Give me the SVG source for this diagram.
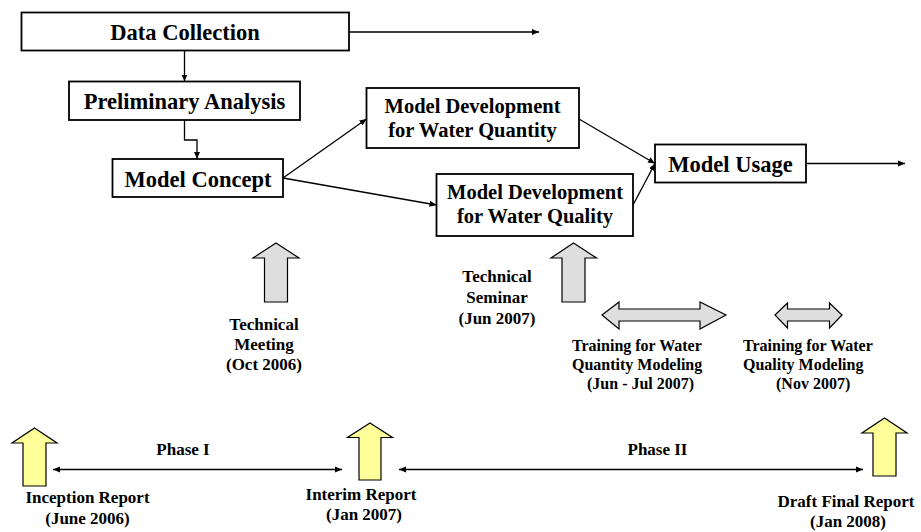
<svg xmlns="http://www.w3.org/2000/svg" width="921" height="532" viewBox="0 0 921 532">
  <style>
    .box { fill: #ffffff; stroke: #000000; stroke-width: 1.8; }
    .t { font-family: "Liberation Serif", "Times New Roman", serif; font-weight: bold; fill: #000000; text-anchor: middle; }
    .big { font-size: 22.5px; }
    .mid { font-size: 20.5px; }
    .sm { font-size: 17px; }
    .tr { font-size: 16px; text-anchor: start; }
    .conn { fill: none; stroke: #000000; stroke-width: 1.3; marker-end: url(#ah); }
    .dbl { fill: none; stroke: #000000; stroke-width: 1.3; marker-start: url(#ah); marker-end: url(#ah); }
    .grey { fill: #dedede; stroke: #000000; stroke-width: 1.2; stroke-linejoin: miter; }
    .yel { fill: #ffff99; stroke: #000000; stroke-width: 1.2; stroke-linejoin: miter; }
  </style>
  <defs>
    <marker id="ah" markerUnits="userSpaceOnUse" markerWidth="8" markerHeight="7" refX="7" refY="3.5" orient="auto-start-reverse">
      <path d="M0,0.5 L7,3.5 L0,6.5 z" fill="#000000"/>
    </marker>
  </defs>

  <g id="connectors">
    <line class="conn" x1="349" y1="32" x2="539" y2="32"/>
    <line class="conn" x1="184.5" y1="51" x2="184.5" y2="81.5"/>
    <polyline class="conn" points="184.5,120 184.5,140 197,140 197,159"/>
    <line class="conn" x1="283" y1="178" x2="366.5" y2="119"/>
    <line class="conn" x1="283" y1="178" x2="436.5" y2="205"/>
    <line class="conn" x1="579" y1="119" x2="655" y2="163.5"/>
    <line class="conn" x1="633" y1="205" x2="655" y2="163.5"/>
    <line class="conn" x1="806" y1="163.5" x2="905" y2="163.5"/>
    <line class="dbl" x1="53" y1="469.5" x2="342" y2="469.5"/>
    <line class="dbl" x1="399" y1="469.5" x2="863" y2="469.5"/>
  </g>

  <g id="data-collection">
    <rect class="box" x="21.5" y="12.5" width="327.5" height="38"/>
    <text class="t big" x="185" y="40">Data Collection</text>
  </g>
  <g id="preliminary-analysis">
    <rect class="box" x="69" y="81.5" width="231" height="38.5"/>
    <text class="t big" x="184.5" y="109">Preliminary Analysis</text>
  </g>
  <g id="model-concept">
    <rect class="box" x="112.5" y="159" width="170.5" height="38"/>
    <text class="t big" x="198" y="187">Model Concept</text>
  </g>
  <g id="model-dev-quantity">
    <rect class="box" x="366.5" y="88" width="212.5" height="60"/>
    <text class="t mid" x="472.5" y="113">Model Development</text>
    <text class="t mid" x="472.5" y="137">for Water Quantity</text>
  </g>
  <g id="model-dev-quality">
    <rect class="box" x="436.5" y="174" width="196.5" height="62"/>
    <text class="t mid" x="535" y="199">Model Development</text>
    <text class="t mid" x="535" y="223">for Water Quality</text>
  </g>
  <g id="model-usage">
    <rect class="box" x="655" y="144.5" width="151" height="38"/>
    <text class="t big" x="730.5" y="172">Model Usage</text>
  </g>

  <g id="technical-meeting">
    <polygon class="grey" points="276,243 299,258 287.5,258 287.5,302 264.5,302 264.5,258 253,258"/>
    <text class="t sm" x="264" y="330">Technical</text>
    <text class="t sm" x="264" y="350">Meeting</text>
    <text class="t sm" x="264" y="370">(Oct 2006)</text>
  </g>
  <g id="technical-seminar">
    <polygon class="grey" points="573.5,243 596.5,258 585,258 585,302 562,302 562,258 551,258"/>
    <text class="t sm" x="497" y="282">Technical</text>
    <text class="t sm" x="497" y="302.5">Seminar</text>
    <text class="t sm" x="497" y="324">(Jun 2007)</text>
  </g>
  <g id="training-quantity">
    <polygon class="grey" points="602,315 619,302 619,309 700,309 700,302 726,315 700,329 700,321 619,321 619,329"/>
    <text class="t tr" x="572" y="351">Training for Water</text>
    <text class="t tr" x="572" y="370">Quantity Modeling</text>
    <text class="t tr" x="587" y="389">(Jun - Jul 2007)</text>
  </g>
  <g id="training-quality">
    <polygon class="grey" points="775,315 787.5,303 787.5,309 829.5,309 829.5,303 842,315 829.5,328 829.5,321 787.5,321 787.5,328"/>
    <text class="t tr" x="743" y="351">Training for Water</text>
    <text class="t tr" x="743" y="370">Quality Modeling</text>
    <text class="t tr" x="776" y="389">(Nov 2007)</text>
  </g>

  <g id="phase-labels">
    <text class="t sm" x="183" y="455">Phase I</text>
    <text class="t sm" x="657.5" y="455">Phase II</text>
  </g>

  <g id="inception-report">
    <polygon class="yel" points="34.5,428 57,443 46,443 46,486 23,486 23,443 12,443"/>
    <text class="t sm" x="87.5" y="503">Inception Report</text>
    <text class="t sm" x="87.5" y="524">(June 2006)</text>
  </g>
  <g id="interim-report">
    <polygon class="yel" points="370,423 392.5,437.5 381,437.5 381,480 359,480 359,437.5 347.5,437.5"/>
    <text class="t sm" x="361" y="500">Interim Report</text>
    <text class="t sm" x="364" y="520">(Jan 2007)</text>
  </g>
  <g id="draft-final-report">
    <polygon class="yel" points="884.5,418 907,433 896,433 896,476 873,476 873,433 862,433"/>
    <text class="t sm" x="846" y="507">Draft Final Report</text>
    <text class="t sm" x="848" y="527">(Jan 2008)</text>
  </g>
</svg>
